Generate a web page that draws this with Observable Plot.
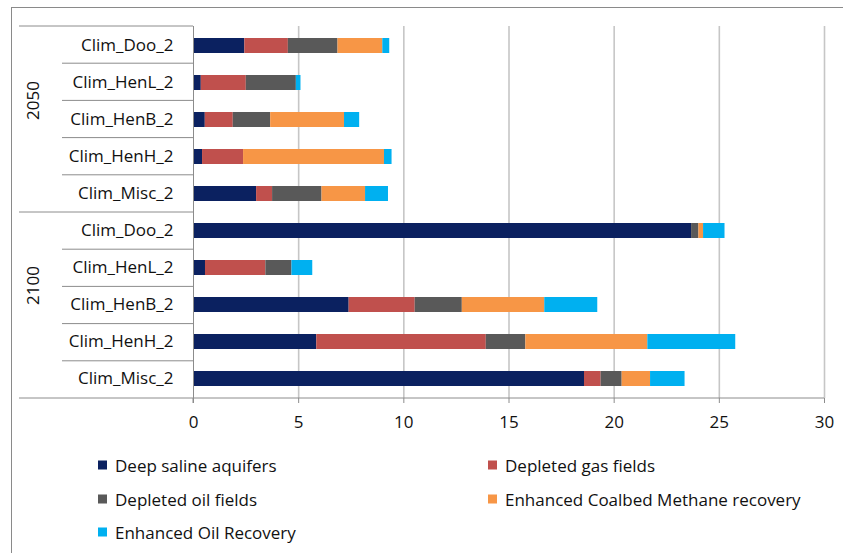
<!DOCTYPE html>
<html><head><meta charset="utf-8">
<script src="https://cdn.jsdelivr.net/npm/d3@7"></script>
<script src="https://cdn.jsdelivr.net/npm/@observablehq/plot@0.6"></script>
<style>
body{margin:0;background:#fff;font-family:"Open Sans",Lato,sans-serif;}
#wrap{position:relative;width:843px;height:553px;overflow:hidden;background:#fff;}
#frame{position:absolute;left:11px;top:7px;width:900px;height:600px;border-left:1.5px solid #8a8a8a;border-top:1.5px solid #8a8a8a;}
#chart{position:absolute;left:0;top:0;}
#legend{position:absolute;left:0;top:0;width:843px;height:553px;}
.item{position:absolute;display:flex;align-items:center;font-size:17px;color:#111;white-space:nowrap;transform:translateY(-50%);}
.sw{width:9px;height:9px;margin-right:8px;flex:none;}
</style></head><body>
<div id="wrap"><div id="frame"></div><div id="chart"></div><div id="legend"></div></div>
<script>
const periods = ["2050", "2100"];
const scenarios = ["Clim_Doo_2", "Clim_HenL_2", "Clim_HenB_2", "Clim_HenH_2", "Clim_Misc_2"];
const series = ["Deep saline aquifers", "Depleted gas fields", "Depleted oil fields", "Enhanced Coalbed Methane recovery", "Enhanced Oil Recovery"];
const colors = ["#0b2160", "#c0504d", "#595959", "#f79646", "#00b0f0"];
// values per row: 2050 (Doo, HenL, HenB, HenH, Misc), then 2100 (same order)
const deepSaline  = [2.44, 0.37, 0.56, 0.43, 3.00, 23.68, 0.57, 7.40, 5.86, 18.59];
const depletedGas = [2.07, 2.14, 1.33, 1.95, 0.76, 0.00, 2.87, 3.14, 8.06, 0.79];
const depletedOil = [2.36, 2.38, 1.78, 0.00, 2.35, 0.35, 1.24, 2.24, 1.88, 1.00];
const ecbm        = [2.13, 0.00, 3.51, 6.70, 2.07, 0.22, 0.00, 3.92, 5.80, 1.35];
const eor         = [0.33, 0.22, 0.72, 0.36, 1.09, 1.02, 0.99, 2.52, 4.18, 1.64];
const xTicks = [0, 5, 10, 15, 20, 25, 30];

const seriesValues = [deepSaline, depletedGas, depletedOil, ecbm, eor];
const keys = periods.flatMap(p => scenarios.map(s => p + "|" + s));
const rows = [];
keys.forEach((key, i) => seriesValues.forEach((vals, k) => rows.push({key, series: series[k], value: vals[i]})));

const W = 843, H = 440, mL = 193, mR = 19, mT = 26, mB = 42;
const chart = Plot.plot({
  width: W, height: H, marginLeft: mL, marginRight: mR, marginTop: mT, marginBottom: mB,
  style: {fontFamily: "'Open Sans', Lato, sans-serif", fontSize: "17px", color: "#111", background: "transparent", overflow: "visible"},
  x: {domain: [0, 30], ticks: xTicks, tickSize: 5, tickPadding: 12, label: null},
  y: {domain: keys, paddingInner: 0.6, paddingOuter: 0.3, tickSize: 0, tickPadding: 20, label: null,
      tickFormat: d => d.split("|")[1]},
  color: {domain: series, range: colors},
  marks: [
    Plot.ruleX(xTicks.filter(d => d > 0), {stroke: "#c6c6c6", strokeWidth: 1.6}),
    Plot.barX(rows, Plot.stackX({x: "value", y: "key", fill: "series", order: series})),
    Plot.ruleX([0], {stroke: "#8c8c8c", strokeWidth: 1}),
    Plot.text(periods, {y: p => p + "|" + scenarios[2], text: d => d, frameAnchor: "left", dx: -160, rotate: -90, fontSize: 17, fill: "#111"})
  ]
});
document.getElementById("chart").appendChild(chart);

// axis styling and category separators, derived from the plot's own scales
const svg = d3.select(chart);
svg.selectAll('g[aria-label="x-axis tick"] path').attr("stroke", "#8c8c8c");
const xs = chart.scale("x"), ys = chart.scale("y");
const xScale = d3.scaleLinear().domain(xs.domain).range(xs.range);
const yScale = d3.scaleBand().domain(ys.domain).range(ys.range)
  .paddingInner(ys.paddingInner).paddingOuter(ys.paddingOuter).align(ys.align ?? 0.5);
const step = yScale.step();
const x0 = xScale(0);
const g = svg.append("g").attr("stroke", "#8c8c8c").attr("stroke-width", 1);
// baseline
g.append("line").attr("x1", x0).attr("x2", xScale(30)).attr("y1", H - mB).attr("y2", H - mB);
g.append("line").attr("x1", x0).attr("x2", x0).attr("y1", H - mB).attr("y2", H - mB + 5);
// separators
keys.forEach((k, i) => {
  const yc = yScale(k) + yScale.bandwidth() / 2;
  const top = yc - step / 2;
  const groupStart = i % scenarios.length === 0;
  g.append("line").attr("x1", groupStart ? 19 : 62).attr("x2", x0).attr("y1", top).attr("y2", top);
  if (i === keys.length - 1) {
    const bot = yc + step / 2;
    g.append("line").attr("x1", 19).attr("x2", x0).attr("y1", bot).attr("y2", bot);
  }
});

// legend
const legendCols = [98, 488], legendRows = [465, 499, 532];
const legend = document.getElementById("legend");
series.forEach((s, i) => {
  const d = document.createElement("div");
  d.className = "item";
  d.style.left = legendCols[i % 2] + "px";
  d.style.top = legendRows[Math.floor(i / 2)] + "px";
  const sw = document.createElement("span");
  sw.className = "sw";
  sw.style.background = colors[i];
  d.appendChild(sw);
  d.appendChild(document.createTextNode(s));
  legend.appendChild(d);
});
</script></body></html>
